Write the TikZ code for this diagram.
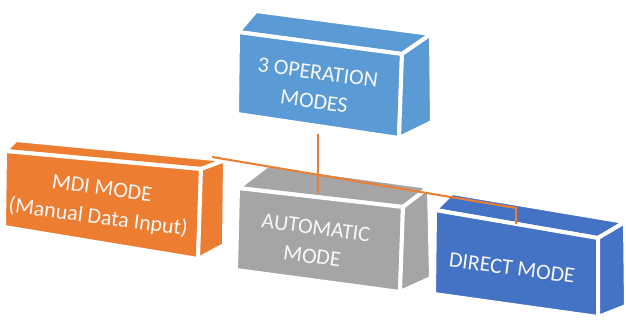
\documentclass[tikz,border=0pt]{standalone}
\usepackage{fontspec}
\setmainfont{Carlito}
\usepackage{tikz}
\definecolor{opsblue}{RGB}{91,155,213}
\definecolor{mdiorange}{RGB}{237,125,49}
\definecolor{autogray}{RGB}{165,165,165}
\definecolor{dirblue}{RGB}{68,114,196}
\tikzset{
  face/.style={draw=white,line width=4pt,line join=round},
  modetext/.style={text=white!94!gray,font=\fontsize{22}{29}\selectfont,align=center,rotate=-7.5,inner sep=0pt},
  link/.style={draw=mdiorange,line width=2pt}
}

\begin{document}
\begin{tikzpicture}[x=1pt,y=-1pt]
            \useasboundingbox (0,0) rectangle (626,324);
            % 3 operation modes
            \fill[opsblue,face] (238,32) -- (256,11) -- (431,34) -- (402,54) -- cycle;
            \fill[opsblue,face] (238,32) -- (402,54) -- (399,138) -- (237,114) -- cycle;
            \fill[opsblue,face] (402,54) -- (431,34) -- (432,122) -- (399,138) -- cycle;
            % mdi mode
            \fill[mdiorange,face] (5,151) -- (16,140) -- (225,160) -- (201,169) -- cycle;
            \fill[mdiorange,face] (5,151) -- (201,169) -- (198,259) -- (4,227) -- cycle;
            \fill[mdiorange,face] (201,169) -- (225,160) -- (224,245) -- (198,259) -- cycle;
            % automatic mode
            \fill[autogray,face] (238,188) -- (268,165) -- (429,187) -- (403,207) -- cycle;
            \fill[autogray,face] (238,188) -- (403,207) -- (400,292) -- (236,270) -- cycle;
            \fill[autogray,face] (403,207) -- (429,187) -- (431,278) -- (400,292) -- cycle;
            % direct mode
            \fill[dirblue,face] (435,210) -- (452,193) -- (625,222) -- (598,238) -- cycle;
            \fill[dirblue,face] (435,210) -- (598,238) -- (598,317) -- (434,294) -- cycle;
            \fill[dirblue,face] (598,238) -- (625,222) -- (626,306) -- (598,317) -- cycle;

            \node[modetext](ops)  at (316,87)  {3 OPERATION\\MODES};
            \node[modetext](mdi)  at (100,204) {MDI MODE\\(Manual Data Input)};
            \node[modetext](auto) at (314,242) {AUTOMATIC\\MODE};
            \node[modetext](dir)  at (512,268) {DIRECT MODE};

            \coordinate (opsB)  at (318,134);
            \coordinate (autoT) at (318,193);
            \coordinate (mdiT)  at (212,157);
            \coordinate (dirK)  at (516,208);
            \coordinate (dirT)  at (516,224);
            \draw[link] (opsB) -- (autoT);
            \draw[link] (mdiT) -- (dirK) -- (dirT);
        \end{tikzpicture}
\end{document}
